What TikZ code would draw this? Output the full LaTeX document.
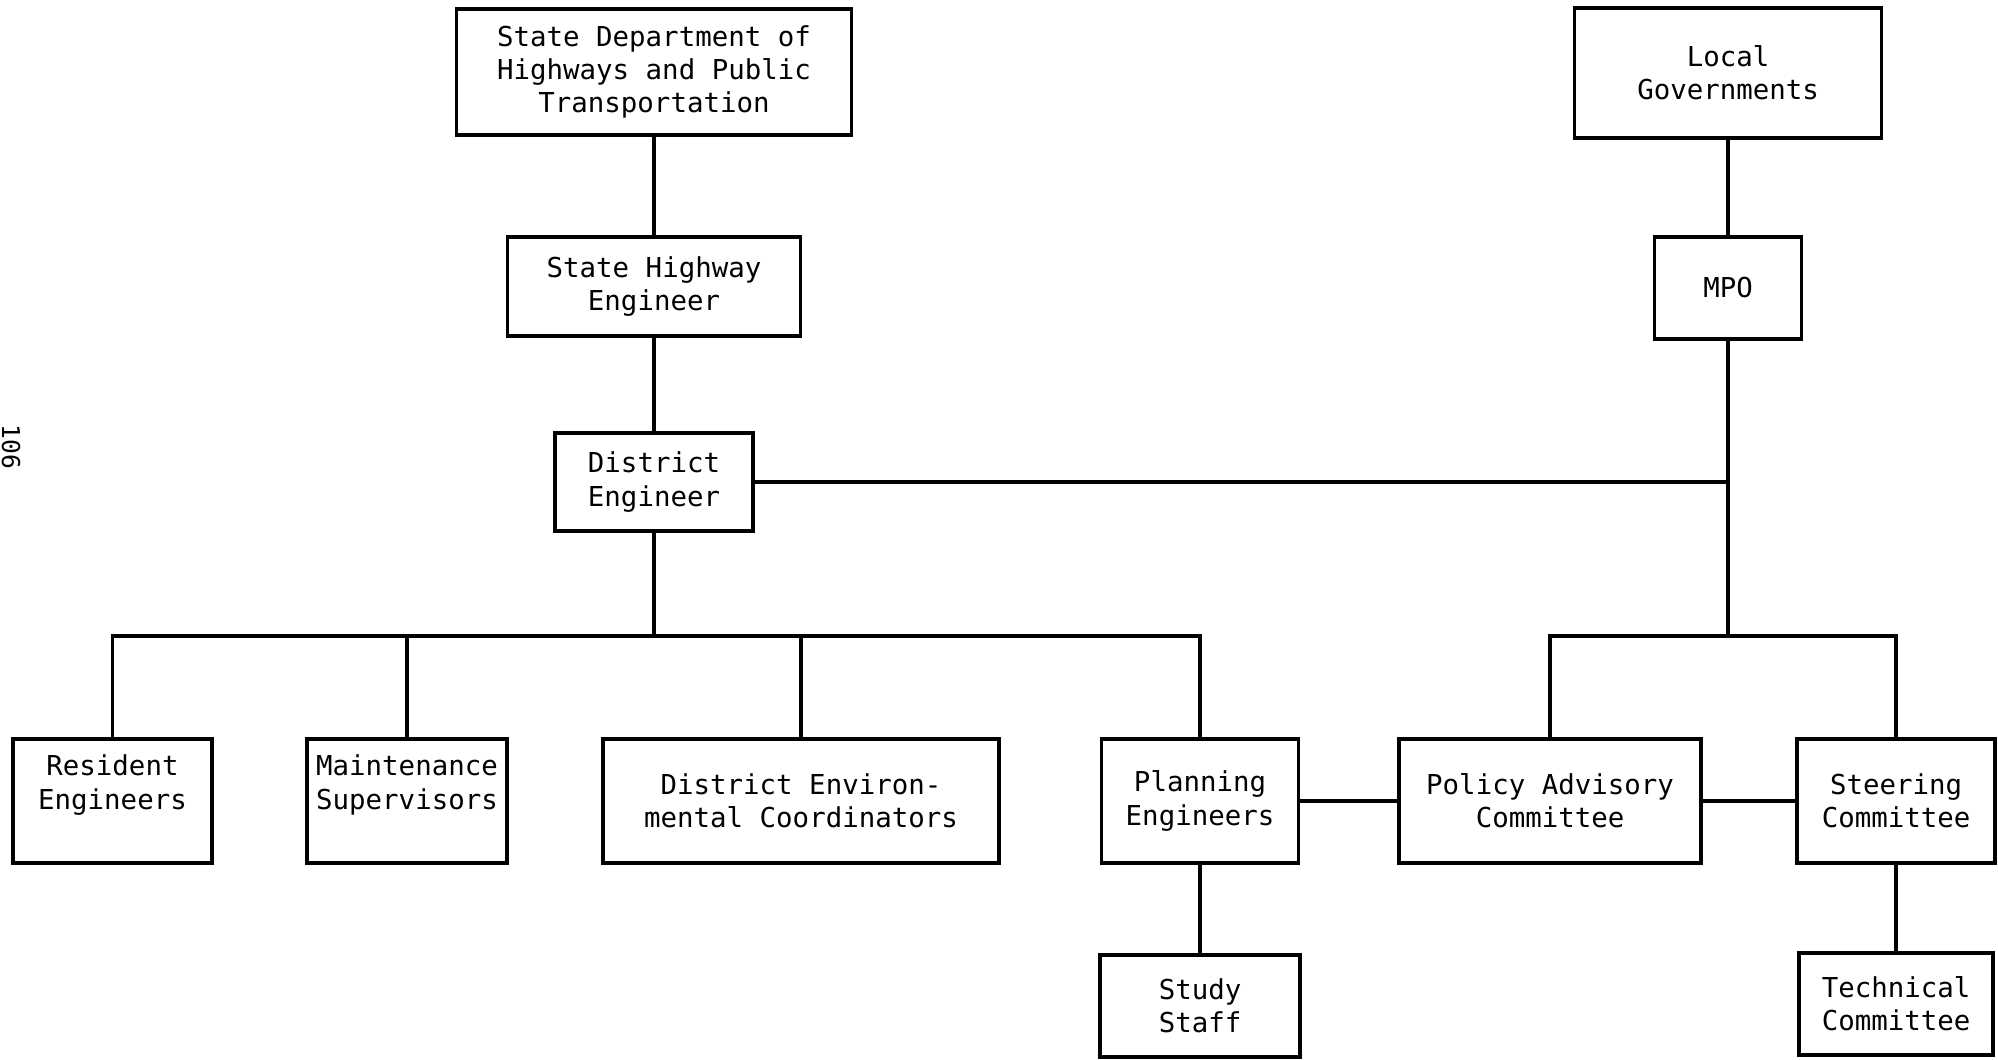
\documentclass[tikz,border=0pt]{standalone}
\usepackage{fontspec}
\setmonofont{DejaVu Sans Mono}
\usepackage{tikz}
\usetikzlibrary{positioning}

\begin{document}
\begin{tikzpicture}[
    orgbox/.style={draw, line width=1pt, align=center, inner sep=0pt,
        font=\ttfamily\fontsize{7.8}{9.5}\selectfont},
    raised/.style={text depth=0.38cm},
    every path/.style={line width=1pt}
]
    % border
    \useasboundingbox (0,0) rectangle (19.98,10.6);
    % page number
    \node[font=\ttfamily\fontsize{7}{8}\selectfont, rotate=-90, inner sep=0pt] (pagenum) at (0.11,6.13) {106};
    % state side
    \node[orgbox, minimum width=3.95cm, minimum height=1.26cm] (sdhpt) at (6.54,9.88) {State Department of\\Highways and Public\\Transportation};
    \node[orgbox, minimum width=2.93cm, minimum height=0.99cm] (she) at (6.54,7.735) {State Highway\\Engineer};
    \node[orgbox, minimum width=1.98cm, minimum height=0.98cm] (de) at (6.54,5.78) {District\\Engineer};
    % local side
    \node[orgbox, minimum width=3.07cm, minimum height=1.30cm] (lg) at (17.28,9.87) {Local\\Governments};
    \node[orgbox, minimum width=1.47cm, minimum height=1.02cm] (mpo) at (17.28,7.72) {MPO};
    % bottom row
    \node[orgbox, raised, minimum width=1.99cm, minimum height=1.24cm] (res) at (1.125,2.59) {Resident\\Engineers};
    \node[orgbox, raised, minimum width=2.00cm, minimum height=1.24cm] (mnt) at (4.07,2.59) {Maintenance\\Supervisors};
    \node[orgbox, minimum width=3.96cm, minimum height=1.24cm] (dec) at (8.01,2.59) {District Environ-\\mental Coordinators};
    \node[orgbox, minimum width=1.97cm, minimum height=1.24cm] (pln) at (12.0,2.59) {Planning\\Engineers};
    \node[orgbox, minimum width=3.02cm, minimum height=1.24cm] (pac) at (15.5,2.59) {Policy Advisory\\Committee};
    \node[orgbox, minimum width=1.98cm, minimum height=1.24cm] (stc) at (18.96,2.59) {Steering\\Committee};
    % lowest row
    \node[orgbox, minimum width=2.00cm, minimum height=1.02cm] (study) at (12.0,0.54) {Study\\Staff};
    \node[orgbox, minimum width=1.94cm, minimum height=1.02cm] (tech) at (18.96,0.56) {Technical\\Committee};
    % bus points
    \coordinate (lbus) at (6.54,4.24);
    \coordinate (rbus) at (17.28,4.24);
    % connectors
    \draw (sdhpt) -- (she);
    \draw (she) -- (de);
    \draw (de) -- (lbus);
    \draw (lg) -- (mpo);
    \draw (mpo) -- (rbus);
    \draw (de) -- (de -| rbus);
    \draw (res) |- (lbus) -| (pln);
    \draw (mnt) -- (mnt |- lbus);
    \draw (dec) -- (dec |- lbus);
    \draw (pac) |- (rbus) -| (stc);
    \draw (pln) -- (pac);
    \draw (pac) -- (stc);
    \draw (pln) -- (study);
    \draw (stc) -- (tech);
\end{tikzpicture}
\end{document}
